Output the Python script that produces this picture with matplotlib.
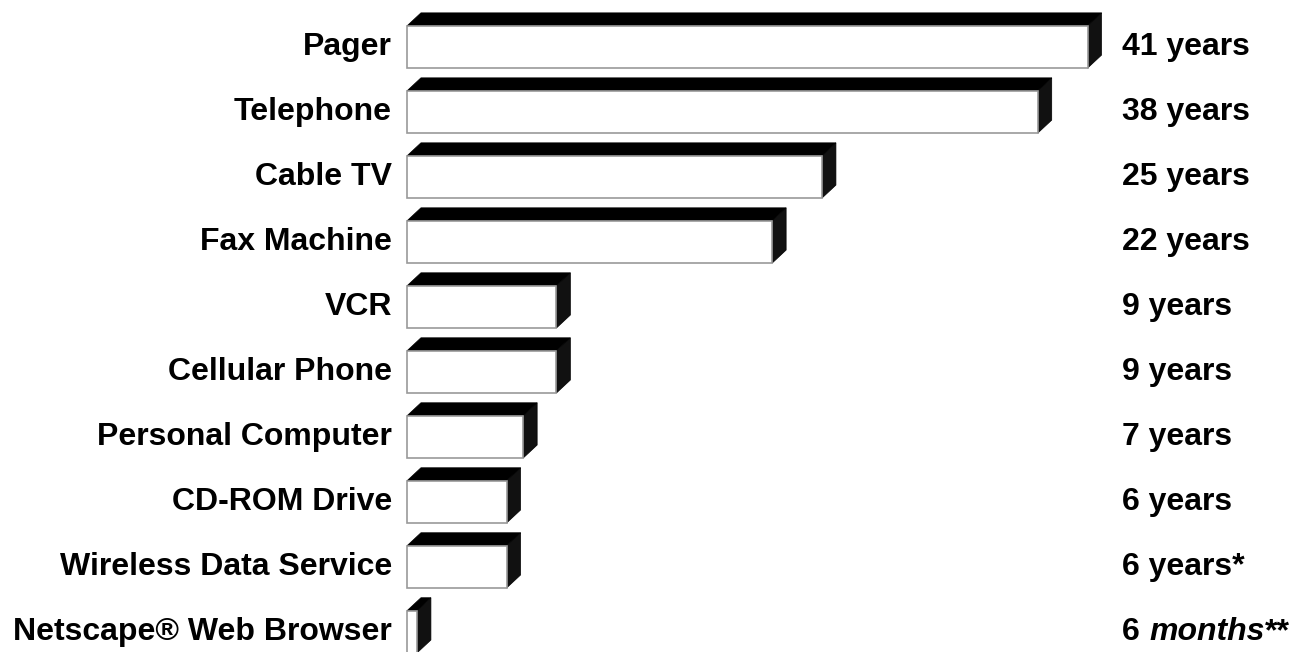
import matplotlib
matplotlib.use("Agg")
import matplotlib.pyplot as plt
from matplotlib.patches import Rectangle, Polygon

plt.rcParams['font.family'] = ['Liberation Sans', 'DejaVu Sans']

labels = ["Pager", "Telephone", "Cable TV", "Fax Machine", "VCR", "Cellular Phone",
          "Personal Computer", "CD-ROM Drive", "Wireless Data Service",
          "Netscape\u00ae Web Browser"]
years = [41, 38, 25, 22, 9, 9, 7, 6, 6, 0.6]
value_texts = ["41 years", "38 years", "25 years", "22 years", "9 years", "9 years",
               "7 years", "6 years", "6 years*", None]

FS = 23

fig = plt.figure(figsize=(13.09, 6.52), dpi=100)
ax = fig.add_axes([0, 0, 1, 1])
ax.set_xlim(-24.52, 54.34)
ax.set_ylim(9.31, -0.723)
ax.axis("off")

h = 0.65      # bar thickness (rows)
dx = 0.84     # depth offset in x (years)
dy = 0.2      # depth offset in y (rows)

for i, (lab, v) in enumerate(zip(labels, years)):
    top = i - h / 2
    bot = i + h / 2
    # top face
    ax.add_patch(Polygon([(0, top), (v, top), (v + dx, top - dy), (dx, top - dy)],
                         closed=True, facecolor="black", edgecolor="black", lw=0.5))
    # side face
    ax.add_patch(Polygon([(v, top), (v + dx, top - dy), (v + dx, bot - dy), (v, bot)],
                         closed=True, facecolor="#111111", edgecolor="black", lw=0.5))
    # front face
    ax.add_patch(Rectangle((0, top), v, h, facecolor="white", edgecolor="#999999", lw=1.2))
    ax.text(-0.9, i, lab, ha="right", va="center", fontsize=FS, fontweight="bold")
    if value_texts[i] is not None:
        ax.text(43.1, i, value_texts[i], ha="left", va="center", fontsize=FS,
                fontweight="bold")

# last value: "6 months**" with italic "months"
fig.canvas.draw()
r = fig.canvas.get_renderer()
i = len(labels) - 1
t1 = ax.text(43.1, i, "6 ", ha="left", va="center", fontsize=FS, fontweight="bold")
x_px = ax.transData.transform((43.1, i))[0] + t1.get_window_extent(r).width
x_data = ax.transData.inverted().transform((x_px, 0))[0]
t2 = ax.text(x_data, i, "months", ha="left", va="center", fontsize=FS,
             fontweight="bold", fontstyle="italic")
x_px += t2.get_window_extent(r).width
x_data = ax.transData.inverted().transform((x_px, 0))[0]
ax.text(x_data, i, "**", ha="left", va="center", fontsize=FS, fontweight="bold")

fig.savefig("out.png", dpi=100, facecolor="white")
